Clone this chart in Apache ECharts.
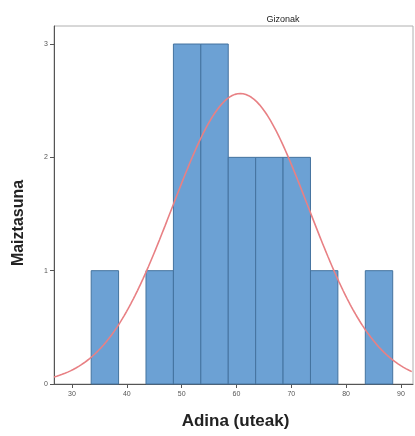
<!DOCTYPE html>
<html>
<head>
<meta charset="utf-8">
<script src="https://cdn.jsdelivr.net/npm/echarts@6/dist/echarts.min.js"></script>
<style>
  html, body { margin: 0; padding: 0; background: #fff; }
  #chart { width: 415px; height: 436px; }
</style>
</head>
<body>
<div id="chart"></div>
<script>
// Age histogram (men), bins of 5 years
const binStarts = [33.5, 38.5, 43.5, 48.5, 53.5, 58.5, 63.5, 68.5, 73.5, 78.5, 83.5];
const binWidth = 5;
const counts = [1, 0, 1, 3, 3, 2, 2, 2, 1, 0, 1];

// Fitted normal curve parameters
const fitMean = 60.7;
const fitSd = 12.45;

const xTicks = [30, 40, 50, 60, 70, 80, 90];
const yTicks = [0, 1, 2, 3];

const total = counts.reduce((a, b) => a + b, 0);
const barData = binStarts.map((s, i) => [s, s + binWidth, counts[i]]).filter(d => d[2] > 0);

const xMin = 26.72, xMax = 92.2;
const curve = [];
for (let x = xMin; x <= xMax + 1e-9; x += 0.25) {
  const z = (x - fitMean) / fitSd;
  const y = total * binWidth / (fitSd * Math.sqrt(2 * Math.PI)) * Math.exp(-0.5 * z * z);
  curve.push([x, y]);
}

const chart = echarts.init(document.getElementById('chart'), null, { renderer: 'canvas' });
chart.setOption({
  animation: false,
  backgroundColor: '#ffffff',
  title: {
    text: 'Gizonak',
    left: 278, top: 10, textAlign: 'center',
    textStyle: { fontFamily: 'Liberation Sans', fontSize: 9, fontWeight: 'normal', color: '#222' }
  },
  grid: {
    left: 54, top: 26, right: 2, bottom: 52,
    show: true, borderColor: '#b0b0b0', borderWidth: 1, backgroundColor: 'transparent'
  },
  xAxis: {
    type: 'value', min: xMin, max: xMax,
    name: 'Adina (uteak)', nameLocation: 'middle', nameGap: 29,
    nameTextStyle: { fontFamily: 'Liberation Sans', fontSize: 17, fontWeight: 'bold', color: '#222', padding: [0, 0, 0, 4] },
    axisLine: { lineStyle: { color: '#555', width: 1 } },
    axisTick: { show: true, length: 4, customValues: xTicks, lineStyle: { color: '#555' } },
    axisLabel: { customValues: xTicks, fontSize: 7, color: '#555', margin: 7, fontFamily: 'Liberation Sans' },
    splitLine: { show: false }
  },
  yAxis: {
    type: 'value', min: 0, max: 3.159,
    name: 'Maiztasuna', nameLocation: 'middle', nameGap: 27, nameRotate: 90,
    nameTextStyle: { fontFamily: 'Liberation Sans', fontSize: 16, fontWeight: 'bold', color: '#222', padding: [0, 0, 0, -36] },
    axisLine: { show: true, lineStyle: { color: '#555', width: 1 } },
    axisTick: { show: true, length: 4, customValues: yTicks, lineStyle: { color: '#555' } },
    axisLabel: { customValues: yTicks, fontSize: 7, color: '#555', margin: 6, fontFamily: 'Liberation Sans' },
    splitLine: { show: false }
  },
  series: [
    {
      type: 'custom',
      data: barData,
      encode: { x: [0, 1], y: 2 },
      renderItem: function (params, api) {
        const p0 = api.coord([api.value(0), api.value(2)]);
        const p1 = api.coord([api.value(1), 0]);
        return {
          type: 'rect',
          shape: { x: p0[0], y: p0[1], width: p1[0] - p0[0], height: p1[1] - p0[1] },
          style: { fill: '#6ca1d4', stroke: '#44739f', lineWidth: 1 }
        };
      },
      z: 2
    },
    {
      type: 'line',
      data: curve,
      showSymbol: false,
      smooth: false,
      lineStyle: { color: '#e88084', width: 1.6 },
      z: 3
    }
  ]
});
</script>
</body>
</html>
